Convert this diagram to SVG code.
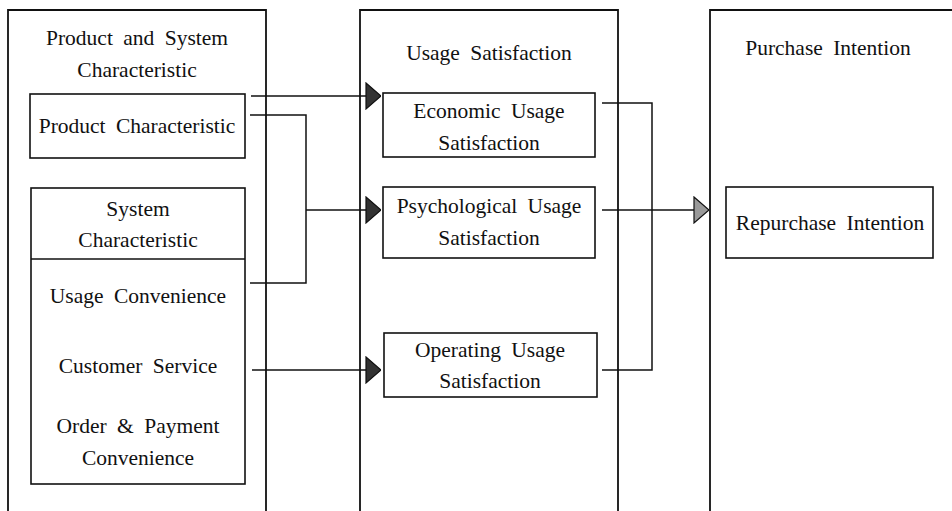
<svg xmlns="http://www.w3.org/2000/svg" width="952" height="511" viewBox="0 0 952 511">
<style>
.col{fill:none;stroke:#111;stroke-width:1.8}
.box{fill:#fff;stroke:#111;stroke-width:1.6}
.ln{fill:none;stroke:#111;stroke-width:1.5}
text{font-family:"Liberation Serif","Times New Roman",serif;font-size:21.5px;fill:#111;text-anchor:middle;word-spacing:5px}
</style>
<defs>
<marker id="ah" markerWidth="16" markerHeight="28" refX="16" refY="14" orientation="auto" markerUnits="userSpaceOnUse"><path d="M1,1 L16,14 L1,27 Z" fill="#333" stroke="#111" stroke-width="1.2"/></marker>
<marker id="ah2" markerWidth="16" markerHeight="28" refX="16" refY="14" orientation="auto" markerUnits="userSpaceOnUse"><path d="M1,1 L16,14 L1,27 Z" fill="#999" stroke="#111" stroke-width="1.2"/></marker>
</defs>
<g id="col-product-system">
<path class="col" d="M8,515 V10 H266 V515"/>
<text x="137" y="45">Product and System</text>
<text x="137" y="77">Characteristic</text>
</g>
<g id="product-characteristic">
<rect class="box" x="30" y="94" width="215" height="64"/>
<text x="137" y="133">Product Characteristic</text>
</g>
<g id="system-characteristic">
<rect class="box" x="31" y="188" width="214" height="296"/>
<line class="ln" x1="31" y1="259" x2="245" y2="259"/>
<text x="138" y="216">System</text>
<text x="138" y="247">Characteristic</text>
<text x="138" y="303">Usage Convenience</text>
<text x="138" y="373">Customer Service</text>
<text x="138" y="433">Order &amp; Payment</text>
<text x="138" y="465">Convenience</text>
</g>
<g id="col-usage-satisfaction">
<path class="col" d="M360,515 V10 H618 V515"/>
<text x="489" y="60">Usage Satisfaction</text>
</g>
<g id="economic">
<rect class="box" x="383" y="93" width="212" height="64"/>
<text x="489" y="118">Economic Usage</text>
<text x="489" y="150">Satisfaction</text>
</g>
<g id="psychological">
<rect class="box" x="383" y="187" width="212" height="71"/>
<text x="489" y="213">Psychological Usage</text>
<text x="489" y="245">Satisfaction</text>
</g>
<g id="operating">
<rect class="box" x="384" y="333" width="213" height="64"/>
<text x="490" y="357">Operating Usage</text>
<text x="490" y="388">Satisfaction</text>
</g>
<g id="col-purchase-intention">
<path class="col" d="M710,515 V10 H960"/>
<text x="828" y="55">Purchase Intention</text>
</g>
<g id="repurchase">
<rect class="box" x="726" y="187" width="207" height="71"/>
<text x="830" y="230">Repurchase Intention</text>
</g>
<g id="connectors">
<path class="ln" d="M251,96 H381" marker-end="url(#ah)"/>
<path class="ln" d="M250,115 H306 V283 H250"/>
<path class="ln" d="M306,210 H381" marker-end="url(#ah)"/>
<path class="ln" d="M252,370 H381" marker-end="url(#ah)"/>
<path class="ln" d="M602,103 H652 V370 H602"/>
<path class="ln" d="M602,210 H709" marker-end="url(#ah2)"/>
</g>
</svg>
